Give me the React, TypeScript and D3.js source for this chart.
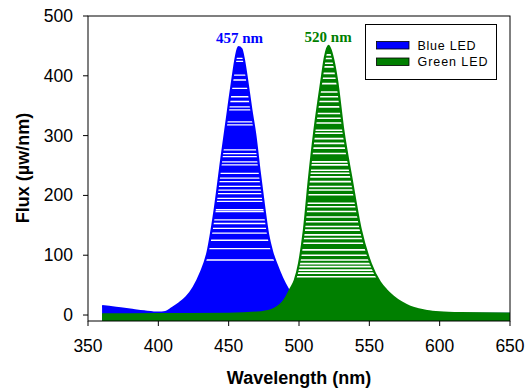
import React from "react";
import * as d3 from "d3";

const blueNm = [360, 370, 380, 390, 400, 405, 410, 415, 420, 425, 430, 435, 440, 445, 450, 453, 455, 457, 459, 461, 463, 466, 469, 472, 475, 478, 481, 484, 488, 492, 496, 500, 505, 510, 520, 540, 570, 600, 650];
const blueFlux = [15, 12, 9, 6, 4, 5, 12, 20, 30, 46, 70, 105, 175, 265, 350, 400, 430, 448, 445, 425, 395, 345, 300, 240, 185, 135, 105, 85, 62, 44, 30, 20, 12, 8, 5, 3, 2, 2, 2];

const greenNm = [360, 400, 450, 470, 480, 485, 488, 491, 494, 497, 500, 503.5, 507, 511, 516, 518.5, 521, 523.5, 527, 531.5, 537.5, 544, 551, 557.5, 562, 567, 573, 579, 585, 591, 600, 615, 650];
const greenFlux = [1, 1.5, 2, 4, 8, 14, 20, 30, 44, 58, 86, 142, 226, 309, 393, 432, 450, 435, 393, 309, 226, 142, 86, 55, 42, 31, 21, 14, 9.5, 6.7, 4.5, 3.2, 2.5];

// white rendering streaks seen inside the filled areas (flux levels)
const blueStreaks = [429, 424, 401, 393, 379, 365, 357, 348, 343, 323, 318, 276, 270, 265, 256, 251, 237, 229, 223, 215, 209, 203, 195, 190, 176, 173, 159, 153, 145, 137, 125, 111, 92];
const greenStreaks = [435, 429, 421, 415, 404, 396, 387, 373, 365, 357, 348, 337, 329, 321, 309, 304, 295, 287, 279, 270, 256, 251, 242, 237, 231, 223, 215, 209, 201, 187, 181, 173, 164, 156, 148, 142, 134, 128, 120, 109, 100, 92, 86, 81, 75, 70, 64];

const xTicks = [350, 400, 450, 500, 550, 600, 650];
const yTicks = [0, 100, 200, 300, 400, 500];

const series = [
  { key: "blue", name: "Blue LED", color: "#0000ff", nm: blueNm, flux: blueFlux, streaks: blueStreaks, peak: 457, label: "457 nm" },
  { key: "green", name: "Green LED", color: "#007f00", nm: greenNm, flux: greenFlux, streaks: greenStreaks, peak: 520, label: "520 nm" },
];

const SANS = "'Liberation Sans', Arial, Helvetica, sans-serif";
const SERIF = "'Liberation Serif', 'Times New Roman', serif";

export default function App() {
  const W = 527, H = 389;
  const x = d3.scaleLinear().domain([350, 650]).range([88, 510]);
  const y = d3.scaleLinear().domain([-10, 500]).range([321, 16]);

  const area = d3.area<[number, number]>()
    .x((d) => x(d[0]))
    .y0(y(-10))
    .y1((d) => y(d[1]))
    .curve(d3.curveMonotoneX);
  const line = d3.line<[number, number]>()
    .x((d) => x(d[0]))
    .y((d) => y(d[1]))
    .curve(d3.curveMonotoneX);

  return (
    <svg width={W} height={H} style={{ position: "absolute", left: 0, top: 0, background: "#fff" }}>
      <defs>
        {series.map((s) => {
          const pts = s.nm.map((n, i) => [n, s.flux[i]] as [number, number]);
          return (
            <clipPath id={`clip-${s.key}`} key={s.key}>
              <path d={area(pts) || ""} />
            </clipPath>
          );
        })}
      </defs>

      {series.map((s) => {
        const pts = s.nm.map((n, i) => [n, s.flux[i]] as [number, number]);
        const peakFlux = d3.max(s.flux) as number;
        return (
          <g key={s.key}>
            <path d={area(pts) || ""} fill={s.color} />
            <g clipPath={`url(#clip-${s.key})`}>
              {s.streaks.map((v, i) => (
                <line key={i} x1={x(350)} x2={x(650)} y1={y(v)} y2={y(v)} stroke="#fff" strokeWidth={s.key === "green" ? 1.6 : 1.3} />
              ))}
            </g>
            <path d={line(pts) || ""} fill="none" stroke={s.color} strokeWidth={2.2} />
            <text x={x(s.peak) + 1} y={y(peakFlux) - 4} textAnchor="middle" fontFamily={SERIF} fontWeight="bold" fontSize={15} fill={s.color}>
              {s.label}
            </text>
          </g>
        );
      })}

      {/* frame */}
      <rect x={x(350)} y={y(500)} width={x(650) - x(350)} height={y(-10) - y(500)} fill="none" stroke="#000" strokeWidth={1} />

      {/* y axis */}
      {yTicks.map((t) => (
        <g key={t}>
          <line x1={x(350) - 5} x2={x(350)} y1={y(t)} y2={y(t)} stroke="#000" />
          <text x={73} y={y(t) + 6} textAnchor="end" fontFamily={SANS} fontSize={17.5} fill="#000">{t}</text>
        </g>
      ))}
      {/* x axis */}
      {xTicks.map((t) => (
        <g key={t}>
          <line x1={x(t)} x2={x(t)} y1={y(-10)} y2={y(-10) + 5} stroke="#000" />
          <text x={x(t)} y={351.5} textAnchor="middle" fontFamily={SANS} fontSize={17.5} fill="#000">{t}</text>
        </g>
      ))}

      <text x={(x(350) + x(650)) / 2} y={384} textAnchor="middle" fontFamily={SANS} fontWeight="bold" fontSize={18} fill="#000">
        Wavelength (nm)
      </text>
      <text transform={`translate(29,168) rotate(-90)`} textAnchor="middle" fontFamily={SANS} fontWeight="bold" fontSize={18} fill="#000">
        Flux (µw/nm)
      </text>

      {/* legend */}
      <rect x={365.5} y={24.5} width={131} height={55} fill="#fff" stroke="#000" strokeWidth={1} />
      {series.map((s, i) => (
        <g key={s.key}>
          <rect x={376.5} y={41.5 + i * 16.5} width={32.5} height={7.5} fill={s.color} stroke="#000" strokeWidth={0.8} />
          <text x={417.5} y={49.5 + i * 16.5} fontFamily={SANS} fontSize={12.5} fill="#000" textLength={i === 0 ? 58 : 70} lengthAdjust="spacing">
            {s.name}
          </text>
        </g>
      ))}
    </svg>
  );
}
